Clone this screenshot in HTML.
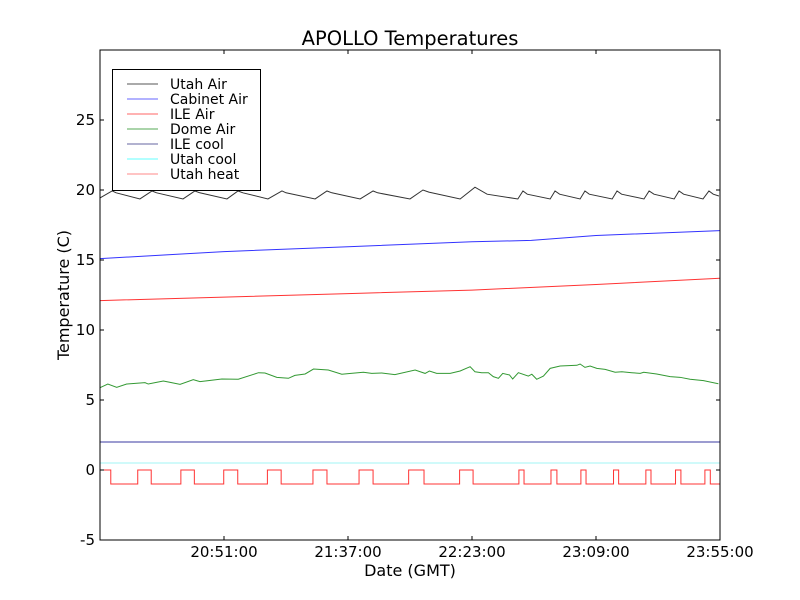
<!DOCTYPE html>
<html><head><meta charset="utf-8"><style>
html,body{margin:0;padding:0;background:#fff;}
svg{display:block;font-family:"DejaVu Sans","Liberation Sans",sans-serif;}
</style></head><body>
<svg id="chart" width="800" height="600" viewBox="0 0 800 600" xmlns="http://www.w3.org/2000/svg">
<rect x="0" y="0" width="800" height="600" fill="#fff"/>
<text x="410" y="45" font-size="19.5" text-anchor="middle">APOLLO Temperatures</text>
<text x="410" y="576" font-size="16" text-anchor="middle">Date (GMT)</text>
<text x="0" y="0" font-size="16" text-anchor="middle" transform="translate(69,295) rotate(-90)">Temperature (C)</text>
<g id="series"></g>
<g id="axes"></g>
<g id="legend"></g>
</svg>
<script>
// minutes after 20:05 GMT
const xTickMinutes = [46, 92, 138, 184, 230];
const xTickLabels = ["20:51:00", "21:37:00", "22:23:00", "23:09:00", "23:55:00"];
const yTicks = [-5, 0, 5, 10, 15, 20, 25];
const yTickLabels = ["-5", "0", "5", "10", "15", "20", "25"];

const utahAirT = [0,4.5,6,14.8,19.3,21,30.8,35.2,37,47.1,51.2,53,62.3,67.5,69,79.8,84.2,86,96.5,101.3,103,115,119.8,122,133.6,139.1,143.6,155,156.9,158.5,167,168.8,170.5,178.1,179.9,181.5,190,191.8,193.5,201.8,203.7,205.5,213,214.8,216.5,223.7,225.9,227.5,229.6];
const utahAirV = [19.43,19.93,19.8,19.36,19.93,19.8,19.36,19.93,19.8,19.36,19.93,19.8,19.36,19.93,19.8,19.36,19.93,19.8,19.36,19.93,19.8,19.36,20.0,19.85,19.36,20.2,19.7,19.36,19.93,19.7,19.36,19.93,19.7,19.36,19.93,19.7,19.36,19.93,19.7,19.36,19.93,19.7,19.36,19.93,19.7,19.36,19.93,19.7,19.57];

const cabinetT = [0,46,92,138,160,184,230];
const cabinetV = [15.1,15.6,15.95,16.3,16.4,16.75,17.1];

const ileAirT = [0,46,92,138,184,230];
const ileAirV = [12.1,12.35,12.6,12.85,13.25,13.7];

const domeT = [0,2.9,6.2,9.9,16.7,17.9,23.5,29.7,34.6,37.1,45.2,51.3,58.8,61.2,65.6,69.9,72.3,76.1,79.2,84.7,89.7,92.1,97.7,100.8,104.5,109.4,116.9,120.6,122.2,124.9,129.9,133.6,137.3,139.1,141.6,144.1,145.9,147.8,149.4,151.9,153.1,155.2,158.9,160.2,162,164.5,167,170.7,176.9,178.1,179.9,181.8,184.3,187.4,191.1,193.6,197.3,200.4,201.7,206.5,211.5,215.2,218.9,223.9,229.4];
const domeV = [5.88,6.14,5.9,6.14,6.24,6.14,6.36,6.12,6.45,6.31,6.5,6.48,6.95,6.93,6.62,6.55,6.76,6.86,7.21,7.14,6.84,6.88,6.98,6.9,6.93,6.81,7.14,6.9,7.07,6.9,6.9,7.07,7.38,7.02,6.95,6.95,6.67,6.55,6.9,6.79,6.5,6.95,6.71,6.84,6.48,6.71,7.26,7.43,7.48,7.57,7.33,7.43,7.26,7.19,6.98,7.02,6.95,6.9,6.98,6.86,6.67,6.62,6.48,6.38,6.16];

const ileCoolT = [0,230];
const ileCoolV = [2.0,2.0];
const utahCoolT = [0,230];
const utahCoolV = [0.5,0.5];

// step series: value holds from this time until the next
const heatT = [0,4.0,14.0,19.0,30.0,35.0,45.9,51.1,62.1,67.2,79.0,84.2,96.1,101.3,114.5,120.2,133.4,138.4,155.4,157.3,167.3,169.5,178.4,180.3,190.5,192.4,202.5,204.4,213.5,215.5,224.4,226.4,230];
const heatV = [0,-1,0,-1,0,-1,0,-1,0,-1,0,-1,0,-1,0,-1,0,-1,0,-1,0,-1,0,-1,0,-1,0,-1,0,-1,0,-1,-1];

const X0=100,X1=720,Y0=540,Y1=50,XMIN=0,XMAX=230,YMIN=-5,YMAX=30;
function xs(t){return X0+(t-XMIN)/(XMAX-XMIN)*(X1-X0);}
function ys(v){return Y0-(v-YMIN)/(YMAX-YMIN)*(Y0-Y1);}
const NS="http://www.w3.org/2000/svg";
function mk(tag,attrs,parent){const e=document.createElementNS(NS,tag);for(const k in attrs)e.setAttribute(k,attrs[k]);parent.appendChild(e);return e;}

const sg=document.getElementById('series');
function line(T,V,color,name){
  const d=T.map((t,i)=>(i?'L':'M')+xs(t).toFixed(2)+','+ys(V[i]).toFixed(2)).join('');
  const p=mk('path',{d:d,fill:'none',stroke:color,'stroke-width':1},sg);
  
  
}
line(ileCoolT,ileCoolV,'#3a3aa0','ile-cool-line');
line(utahCoolT,utahCoolV,'#a0f4f4','utah-cool-line');
line(utahAirT,utahAirV,'#333','utah-air-line');
line(cabinetT,cabinetV,'#3333ff','cabinet-air-line');
line(ileAirT,ileAirV,'#ff3333','ile-air-line');
line(domeT,domeV,'#339933','dome-air-line');
{
  let d='M'+xs(0)+','+ys(-2)+'L'+xs(0)+','+ys(heatV[0]);
  for(let i=1;i<heatT.length;i++){
    d+='L'+xs(heatT[i]).toFixed(2)+','+ys(heatV[i-1]).toFixed(2);
    d+='L'+xs(heatT[i]).toFixed(2)+','+ys(heatV[i]).toFixed(2);
  }
  const p=mk('path',{d:d,fill:'none',stroke:'#ff3333','stroke-width':1},sg);
  
  
}

const ag=document.getElementById('axes');
const fr=mk('rect',{x:X0,y:Y1,width:X1-X0,height:Y0-Y1,fill:'none',stroke:'#000','stroke-width':1},ag);


xTickMinutes.forEach((t,i)=>{
  const x=xs(t);
  mk('line',{x1:x,y1:Y0,x2:x,y2:Y0-4,stroke:'#000'},ag);
  mk('line',{x1:x,y1:Y1,x2:x,y2:Y1+4,stroke:'#000'},ag);
  const tx=mk('text',{x:x,y:Y0+17,'font-size':15,'text-anchor':'middle'},ag);
  tx.textContent=xTickLabels[i];
  
  
});
yTicks.forEach((v,i)=>{
  const y=ys(v);
  mk('line',{x1:X0,y1:y,x2:X0+4,y2:y,stroke:'#000'},ag);
  mk('line',{x1:X1,y1:y,x2:X1-4,y2:y,stroke:'#000'},ag);
  const tx=mk('text',{x:X0-5,y:y+5,'font-size':15,'text-anchor':'end'},ag);
  tx.textContent=yTickLabels[i];
  
  
});

const lg=document.getElementById('legend');
mk('rect',{x:112.5,y:69.5,width:148,height:121,fill:'#fff',stroke:'#000','stroke-width':1},lg);
const legNames=["Utah Air","Cabinet Air","ILE Air","Dome Air","ILE cool","Utah cool","Utah heat"];
const legColors=["#555","#6666ff","#ff6666","#55aa55","#6666a0","#66ffff","#ff8888"];
legNames.forEach((n,i)=>{
  const y=84+i*15;
  const g=mk('g',{},lg);
  
  
  mk('line',{x1:127,y1:y,x2:158,y2:y,stroke:legColors[i],'stroke-width':1},g);
  const t=mk('text',{x:170,y:y+5,'font-size':14},g);
  t.textContent=n;
});
</script>
</body></html>
